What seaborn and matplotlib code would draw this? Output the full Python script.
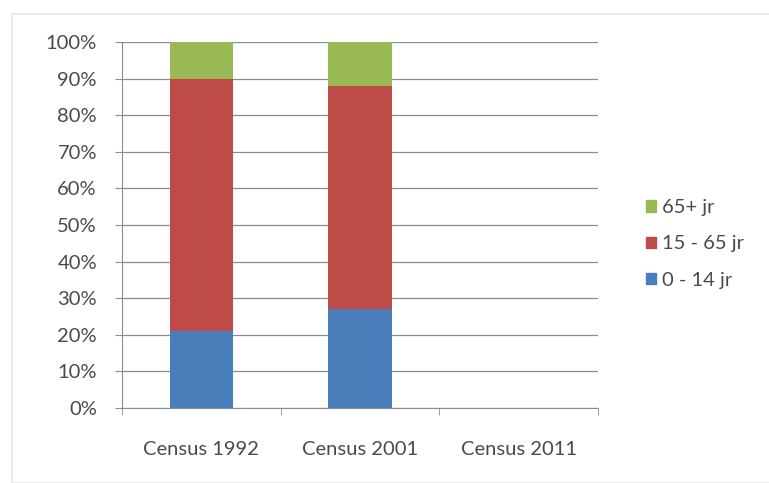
import matplotlib
matplotlib.use("Agg")
import matplotlib.pyplot as plt
import matplotlib.patches as mpatches
from matplotlib.ticker import PercentFormatter
import numpy as np
import pandas as pd
import seaborn as sns

censuses = ["Census 1992", "Census 2001", "Census 2011"]
age_0_14 = [21, 27, np.nan]
age_15_65 = [69, 61, np.nan]
age_65_plus = [10, 12, np.nan]

groups = ["0 - 14 jr", "15 - 65 jr", "65+ jr"]
colors = {"0 - 14 jr": "#4a7ebb", "15 - 65 jr": "#be4b48", "65+ jr": "#98b954"}

sns.set_style("white")
plt.rcParams["font.family"] = ["Lato", "DejaVu Sans"]

df = pd.DataFrame({"census": censuses, "0 - 14 jr": age_0_14,
                   "15 - 65 jr": age_15_65, "65+ jr": age_65_plus})
df["c1"] = df["0 - 14 jr"]
df["c2"] = df["c1"] + df["15 - 65 jr"]
df["c3"] = df["c2"] + df["65+ jr"]

fs = 14.5
txt = "#4a4a4a"

fig = plt.figure(figsize=(7.69, 4.83), dpi=100)
fig.patch.set_facecolor("white")
# outer chart frame
fig.add_artist(mpatches.Rectangle((12 / 769, 0.0), 1, 1 - 14 / 483, transform=fig.transFigure,
                                  fill=False, edgecolor="#e6e6e6", linewidth=1.2))
ax = fig.add_axes([122 / 769, 1 - 408 / 483, 476 / 769, 366 / 483])

for col, grp in [("c3", "65+ jr"), ("c2", "15 - 65 jr"), ("c1", "0 - 14 jr")]:
    sns.barplot(data=df, x="census", y=col, color=colors[grp], width=0.4,
                saturation=1, linewidth=0, ax=ax, zorder=3)

ax.set_ylim(0, 100)
ax.set_xlim(-0.5, 2.5)
ax.set_yticks(range(0, 101, 10))
ax.yaxis.set_major_formatter(PercentFormatter(decimals=0))
ax.set_xticks([0, 1, 2])
ax.set_xticklabels(censuses)
ax.set_xticks([-0.5, 0.5, 1.5, 2.5], minor=True)
ax.set_xlabel("")
ax.set_ylabel("")
ax.grid(axis="y", color="#8c8c8c", linewidth=0.9, zorder=0)
ax.set_axisbelow(True)
sns.despine(ax=ax, top=True, right=True)
for s in ["left", "bottom"]:
    ax.spines[s].set_color("#8c8c8c")
ax.tick_params(axis="y", which="major", length=5, color="#8c8c8c", labelsize=fs,
               labelcolor=txt, left=True, pad=13)
ax.tick_params(axis="x", which="major", length=0, labelsize=fs, labelcolor=txt, pad=24)
ax.tick_params(axis="x", which="minor", length=5, color="#8c8c8c", bottom=True)

handles = [mpatches.Patch(color=colors[g], label=g) for g in reversed(groups)]
fig.legend(handles=handles, loc="center left", bbox_to_anchor=(628 / 769, 1 - 244 / 483),
           frameon=False, fontsize=fs, handlelength=0.5, handleheight=0.5,
           handletextpad=0.3, labelspacing=0.95, labelcolor=txt)

fig.savefig("out.png", dpi=100)
